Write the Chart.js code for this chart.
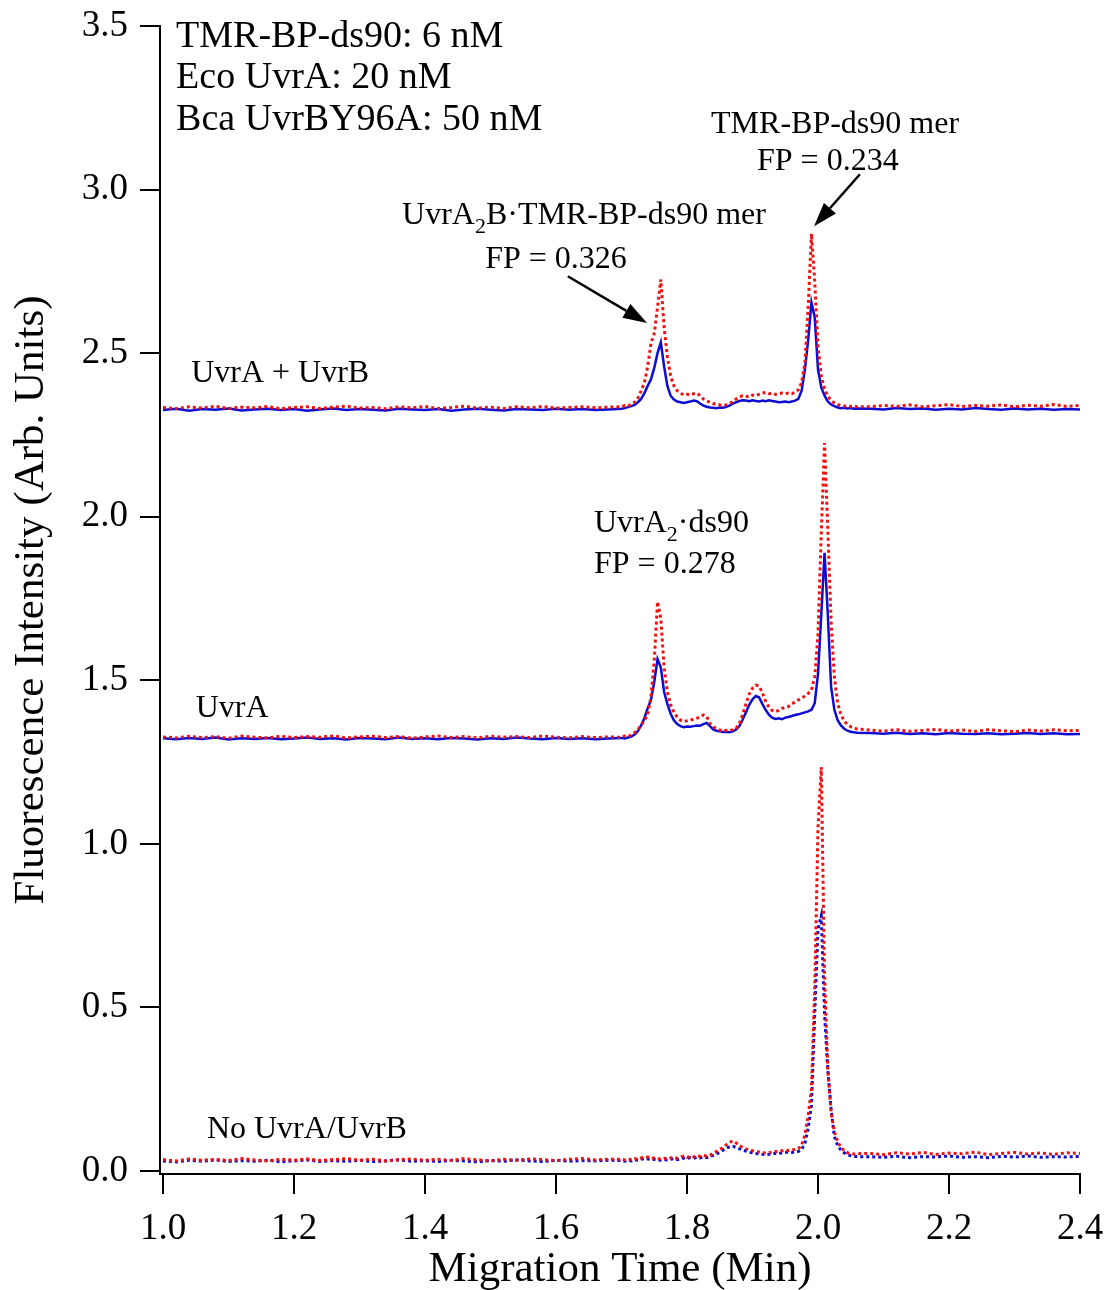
<!DOCTYPE html>
<html>
<head>
<meta charset="utf-8">
<script src="https://cdn.jsdelivr.net/npm/chart.js@4.4.1/dist/chart.umd.min.js"></script>
<style>
  html, body { margin: 0; padding: 0; background: #fff; }
  canvas { display: block; }
</style>
</head>
<body>
<canvas id="grafico" width="1109" height="1290"></canvas>
<script>
// Migration time (min): sparse on the flat baseline, dense around the peaks
const tiempos = [
  1.00,1.02,1.04,1.06,1.08,1.10,1.12,1.14,1.16,1.18,1.20,1.22,1.24,1.26,1.28,1.30,1.32,1.34,1.36,1.38,
  1.40,1.42,1.44,1.46,1.48,1.50,1.52,1.54,1.56,1.58,1.60,1.62,1.64,1.66,1.68,
  1.700,1.705,1.710,1.715,1.720,1.725,1.730,1.735,1.740,1.745,
  1.750,1.755,1.760,1.765,1.770,1.775,1.780,1.785,1.790,1.795,
  1.800,1.805,1.810,1.815,1.820,1.825,1.830,1.835,1.840,1.845,
  1.850,1.855,1.860,1.865,1.870,1.875,1.880,1.885,1.890,1.895,
  1.900,1.905,1.910,1.915,1.920,1.925,1.930,1.935,1.940,1.945,
  1.950,1.955,1.960,1.965,1.970,1.975,1.980,1.985,1.990,1.995,
  2.000,2.005,2.010,2.015,2.020,2.025,2.030,2.035,2.040,2.045,
  2.050,2.055,2.060,
  2.08,2.10,2.12,2.14,2.16,2.18,2.20,2.22,2.24,2.26,2.28,2.30,2.32,2.34,2.36,2.38,2.40
];

// UvrA + UvrB trace
const ab_azul = [
  2.326,2.330,2.324,2.329,2.327,2.331,2.325,2.328,2.330,2.326,2.329,2.324,2.328,2.331,2.326,2.329,2.327,2.325,2.330,2.328,
  2.326,2.329,2.324,2.328,2.330,2.327,2.325,2.329,2.328,2.326,2.330,2.327,2.329,2.326,2.328,
  2.330,2.332,2.335,2.338,2.342,2.350,2.360,2.378,2.400,2.420,
  2.455,2.500,2.533,2.460,2.400,2.370,2.358,2.352,2.350,2.348,
  2.350,2.352,2.355,2.353,2.346,2.340,2.336,2.334,2.333,2.332,
  2.334,2.333,2.336,2.340,2.346,2.350,2.354,2.356,2.355,2.353,
  2.356,2.354,2.352,2.355,2.353,2.356,2.354,2.352,2.350,2.351,
  2.352,2.350,2.352,2.355,2.360,2.385,2.450,2.540,2.655,2.610,
  2.450,2.395,2.370,2.352,2.343,2.338,2.334,2.332,2.333,2.331,
  2.332,2.330,2.331,
  2.330,2.328,2.332,2.329,2.331,2.327,2.330,2.328,2.332,2.329,2.327,2.331,2.328,2.330,2.327,2.329,2.328
];
const ab_rojo = [
  2.334,2.330,2.336,2.332,2.338,2.331,2.335,2.333,2.337,2.330,2.334,2.336,2.331,2.335,2.338,2.332,2.334,2.330,2.336,2.333,
  2.337,2.331,2.334,2.338,2.332,2.335,2.331,2.336,2.333,2.337,2.332,2.334,2.336,2.333,2.335,
  2.336,2.340,2.338,2.344,2.350,2.362,2.385,2.410,2.460,2.530,
  2.560,2.640,2.725,2.580,2.490,2.430,2.400,2.385,2.378,2.372,
  2.374,2.372,2.376,2.378,2.370,2.360,2.354,2.350,2.346,2.344,
  2.342,2.340,2.342,2.346,2.352,2.360,2.366,2.370,2.368,2.366,
  2.372,2.370,2.374,2.378,2.380,2.376,2.378,2.374,2.376,2.378,
  2.376,2.378,2.376,2.380,2.388,2.410,2.470,2.640,2.865,2.720,
  2.520,2.430,2.390,2.368,2.356,2.348,2.343,2.340,2.338,2.340,
  2.337,2.339,2.336,
  2.336,2.340,2.337,2.342,2.336,2.339,2.343,2.337,2.340,2.338,2.342,2.336,2.341,2.338,2.343,2.337,2.340
];

// UvrA trace
const a_azul = [
  1.323,1.320,1.324,1.321,1.325,1.319,1.323,1.321,1.324,1.320,1.322,1.325,1.321,1.323,1.319,1.324,1.322,1.320,1.325,1.321,
  1.323,1.320,1.324,1.322,1.319,1.323,1.321,1.325,1.322,1.320,1.324,1.321,1.323,1.320,1.322,
  1.324,1.322,1.325,1.328,1.334,1.345,1.362,1.385,1.415,1.440,
  1.495,1.565,1.540,1.465,1.428,1.398,1.378,1.366,1.360,1.357,
  1.359,1.358,1.360,1.362,1.361,1.366,1.370,1.360,1.350,1.346,
  1.344,1.342,1.343,1.341,1.344,1.350,1.360,1.380,1.402,1.425,
  1.442,1.452,1.448,1.428,1.410,1.395,1.386,1.382,1.384,1.381,
  1.386,1.388,1.391,1.394,1.396,1.399,1.402,1.405,1.410,1.430,
  1.520,1.700,1.890,1.700,1.480,1.410,1.378,1.362,1.352,1.346,
  1.343,1.341,1.340,
  1.339,1.337,1.340,1.336,1.338,1.335,1.339,1.337,1.336,1.338,1.335,1.337,1.339,1.336,1.338,1.335,1.336
];
const a_rojo = [
  1.327,1.324,1.329,1.325,1.328,1.323,1.330,1.326,1.324,1.329,1.325,1.328,1.326,1.330,1.324,1.327,1.329,1.325,1.328,1.323,
  1.327,1.330,1.325,1.328,1.324,1.329,1.326,1.328,1.325,1.330,1.326,1.324,1.328,1.325,1.327,
  1.326,1.330,1.328,1.333,1.340,1.350,1.362,1.378,1.395,1.450,
  1.560,1.740,1.690,1.540,1.465,1.425,1.402,1.388,1.378,1.374,
  1.376,1.378,1.381,1.384,1.388,1.394,1.390,1.368,1.358,1.352,
  1.348,1.345,1.347,1.346,1.349,1.354,1.368,1.395,1.428,1.458,
  1.476,1.485,1.483,1.462,1.436,1.418,1.408,1.404,1.408,1.414,
  1.418,1.420,1.428,1.434,1.440,1.446,1.452,1.460,1.470,1.510,
  1.640,1.950,2.225,1.960,1.680,1.510,1.430,1.395,1.376,1.364,
  1.358,1.354,1.351,
  1.348,1.345,1.349,1.344,1.347,1.350,1.345,1.348,1.344,1.349,1.346,1.343,1.348,1.345,1.349,1.346,1.347
];

// No UvrA/UvrB trace
const no_azul = [
  0.031,0.028,0.033,0.030,0.034,0.029,0.032,0.030,0.033,0.028,0.031,0.034,0.029,0.032,0.030,0.033,0.029,0.031,0.034,0.030,
  0.032,0.029,0.033,0.031,0.028,0.032,0.030,0.034,0.031,0.029,0.033,0.030,0.032,0.031,0.033,
  0.032,0.030,0.033,0.031,0.035,0.033,0.036,0.038,0.037,0.035,
  0.036,0.034,0.033,0.035,0.034,0.036,0.038,0.035,0.037,0.040,
  0.038,0.041,0.039,0.042,0.040,0.043,0.041,0.044,0.048,0.052,
  0.058,0.064,0.070,0.074,0.076,0.072,0.068,0.064,0.061,0.058,
  0.056,0.054,0.052,0.051,0.050,0.051,0.052,0.054,0.053,0.056,
  0.057,0.058,0.057,0.059,0.060,0.066,0.085,0.130,0.200,0.480,
  0.740,0.780,0.480,0.310,0.190,0.105,0.078,0.064,0.056,0.050,
  0.047,0.045,0.044,
  0.044,0.042,0.045,0.041,0.044,0.043,0.046,0.042,0.044,0.041,0.045,0.043,0.046,0.042,0.044,0.043,0.045
];
const no_rojo = [
  0.035,0.031,0.037,0.033,0.036,0.032,0.038,0.034,0.031,0.036,0.033,0.037,0.032,0.035,0.038,0.033,0.036,0.031,0.035,0.037,
  0.033,0.036,0.032,0.038,0.034,0.031,0.036,0.033,0.037,0.035,0.032,0.036,0.038,0.034,0.036,
  0.036,0.034,0.037,0.035,0.038,0.036,0.040,0.042,0.043,0.039,
  0.040,0.038,0.037,0.039,0.037,0.040,0.042,0.039,0.043,0.046,
  0.042,0.045,0.043,0.047,0.045,0.048,0.046,0.048,0.054,0.060,
  0.066,0.072,0.080,0.088,0.092,0.086,0.078,0.072,0.068,0.064,
  0.062,0.060,0.058,0.056,0.055,0.056,0.058,0.060,0.059,0.062,
  0.064,0.063,0.065,0.066,0.068,0.080,0.110,0.170,0.250,0.560,
  1.050,1.235,0.600,0.310,0.180,0.120,0.090,0.072,0.062,0.056,
  0.054,0.052,0.053,
  0.054,0.050,0.056,0.052,0.057,0.051,0.055,0.053,0.058,0.050,0.054,0.057,0.052,0.055,0.051,0.056,0.054
];

const xTicks = [1.0, 1.2, 1.4, 1.6, 1.8, 2.0, 2.2, 2.4];
const xTickLabels = ["1.0", "1.2", "1.4", "1.6", "1.8", "2.0", "2.2", "2.4"];
const yTicks = [0, 0.5, 1.0, 1.5, 2.0, 2.5, 3.0, 3.5];
const yTickLabels = ["0.0", "0.5", "1.0", "1.5", "2.0", "2.5", "3.0", "3.5"];

const FUENTE = "'Liberation Serif', 'Times New Roman', serif";
const AZUL = '#0c0cd2';
const ROJO = '#f01010';

// text notes, placed in data units; parts marked true are subscripts
const notas = [
  { partes: [['TMR-BP-ds90: 6 nM']], x: 1.020, y: 3.435, size: 38, align: 'left' },
  { partes: [['Eco UvrA: 20 nM']], x: 1.020, y: 3.310, size: 38, align: 'left' },
  { partes: [['Bca UvrBY96A: 50 nM']], x: 1.020, y: 3.182, size: 38, align: 'left' },
  { partes: [['TMR-BP-ds90 mer']], x: 2.026, y: 3.172, size: 32, align: 'center' },
  { partes: [['FP = 0.234']], x: 2.015, y: 3.059, size: 32, align: 'center' },
  { partes: [['UvrA'], ['2', true], ['B\u00b7TMR-BP-ds90 mer']], x: 1.365, y: 2.894, size: 32, align: 'left' },
  { partes: [['FP = 0.326']], x: 1.600, y: 2.760, size: 32, align: 'center' },
  { partes: [['UvrA + UvrB']], x: 1.043, y: 2.412, size: 32, align: 'left' },
  { partes: [['UvrA'], ['2', true], ['\u00b7ds90']], x: 1.658, y: 1.953, size: 32, align: 'left' },
  { partes: [['FP = 0.278']], x: 1.658, y: 1.828, size: 32, align: 'left' },
  { partes: [['UvrA']], x: 1.050, y: 1.388, size: 32, align: 'left' },
  { partes: [['No UvrA/UvrB']], x: 1.067, y: 0.101, size: 32, align: 'left' }
];
const flechas = [
  { desde: [2.064, 3.047], hasta: [1.994, 2.888] },
  { desde: [1.618, 2.735], hasta: [1.739, 2.592] }
];

function serie(ys) {
  return tiempos.map((t, i) => ({ x: t, y: ys[i] }));
}

const anotaciones = {
  id: 'anotaciones',
  afterDatasetsDraw(chart) {
    const ctx = chart.ctx;
    const sx = chart.scales.x, sy = chart.scales.y;
    ctx.save();
    ctx.fillStyle = '#000';
    ctx.strokeStyle = '#000';
    ctx.textBaseline = 'alphabetic';
    ctx.textAlign = 'left';
    notas.forEach(n => {
      const sub = Math.round(n.size * 0.68);
      let ancho = 0;
      n.partes.forEach(p => {
        ctx.font = (p[1] ? sub : n.size) + 'px ' + FUENTE;
        ancho += ctx.measureText(p[0]).width;
      });
      let px = sx.getPixelForValue(n.x);
      const py = sy.getPixelForValue(n.y);
      if (n.align === 'center') px -= ancho / 2;
      n.partes.forEach(p => {
        ctx.font = (p[1] ? sub : n.size) + 'px ' + FUENTE;
        ctx.fillText(p[0], px, p[1] ? py + n.size * 0.28 : py);
        px += ctx.measureText(p[0]).width;
      });
    });
    flechas.forEach(f => {
      const x0 = sx.getPixelForValue(f.desde[0]), y0 = sy.getPixelForValue(f.desde[1]);
      const x1 = sx.getPixelForValue(f.hasta[0]), y1 = sy.getPixelForValue(f.hasta[1]);
      const ang = Math.atan2(y1 - y0, x1 - x0);
      const largo = 24, medio = 8;
      const bx = x1 - largo * Math.cos(ang), by = y1 - largo * Math.sin(ang);
      ctx.lineWidth = 2.5;
      ctx.beginPath();
      ctx.moveTo(x0, y0);
      ctx.lineTo(bx, by);
      ctx.stroke();
      ctx.beginPath();
      ctx.moveTo(x1, y1);
      ctx.lineTo(bx + medio * Math.sin(ang), by - medio * Math.cos(ang));
      ctx.lineTo(bx - medio * Math.sin(ang), by + medio * Math.cos(ang));
      ctx.closePath();
      ctx.fill();
    });
    ctx.restore();
  }
};

const punteado = { borderDash: [3, 3], borderWidth: 3 };

new Chart(document.getElementById('grafico'), {
  type: 'line',
  data: {
    datasets: [
      Object.assign({ data: serie(no_rojo), borderColor: ROJO }, punteado),
      Object.assign({ data: serie(no_azul), borderColor: AZUL }, punteado),
      Object.assign({ data: serie(a_rojo), borderColor: ROJO }, punteado),
      { data: serie(a_azul), borderColor: AZUL, borderWidth: 2.5 },
      Object.assign({ data: serie(ab_rojo), borderColor: ROJO }, punteado),
      { data: serie(ab_azul), borderColor: AZUL, borderWidth: 2.5 }
    ].map((d, i) => Object.assign(d, { pointRadius: 0, tension: 0, fill: false, order: i % 2 === 0 ? 0 : 1 }))
  },
  options: {
    responsive: false,
    animation: false,
    layout: { padding: { top: 26, right: 29, left: 0, bottom: 0 } },
    plugins: { legend: { display: false }, tooltip: { enabled: false } },
    scales: {
      x: {
        type: 'linear',
        min: 0.9954,
        max: 2.4,
        afterBuildTicks: s => { s.ticks = xTicks.map(v => ({ value: v })); },
        afterFit: s => { s.height = 116; s.paddingLeft = 0; s.paddingRight = 0; },
        ticks: {
          callback: (v, i) => xTickLabels[i],
          font: { family: FUENTE, size: 37 },
          color: '#000',
          padding: 13,
          autoSkip: false,
          maxRotation: 0
        },
        grid: { drawOnChartArea: false, drawTicks: true, tickLength: 20, color: '#000', lineWidth: 2 },
        border: { display: true, color: '#000', width: 2 },
        title: {
          display: true,
          text: 'Migration Time (Min)',
          font: { family: FUENTE, size: 43 },
          color: '#000',
          padding: { top: 0, bottom: -6 }
        }
      },
      y: {
        min: -0.009,
        max: 3.5,
        afterBuildTicks: s => { s.ticks = yTicks.map(v => ({ value: v })); },
        afterFit: s => { s.width = 160; s.paddingTop = 0; s.paddingBottom = 0; },
        ticks: {
          callback: (v, i) => yTickLabels[i],
          font: { family: FUENTE, size: 37 },
          color: '#000',
          padding: 12
        },
        grid: { drawOnChartArea: false, drawTicks: true, tickLength: 20, color: '#000', lineWidth: 2 },
        border: { display: true, color: '#000', width: 2 },
        title: {
          display: true,
          text: 'Fluorescence Intensity (Arb. Units)',
          font: { family: FUENTE, size: 43 },
          color: '#000',
          padding: { top: 6, bottom: 0 }
        }
      }
    }
  },
  plugins: [anotaciones]
});
</script>
</body>
</html>
